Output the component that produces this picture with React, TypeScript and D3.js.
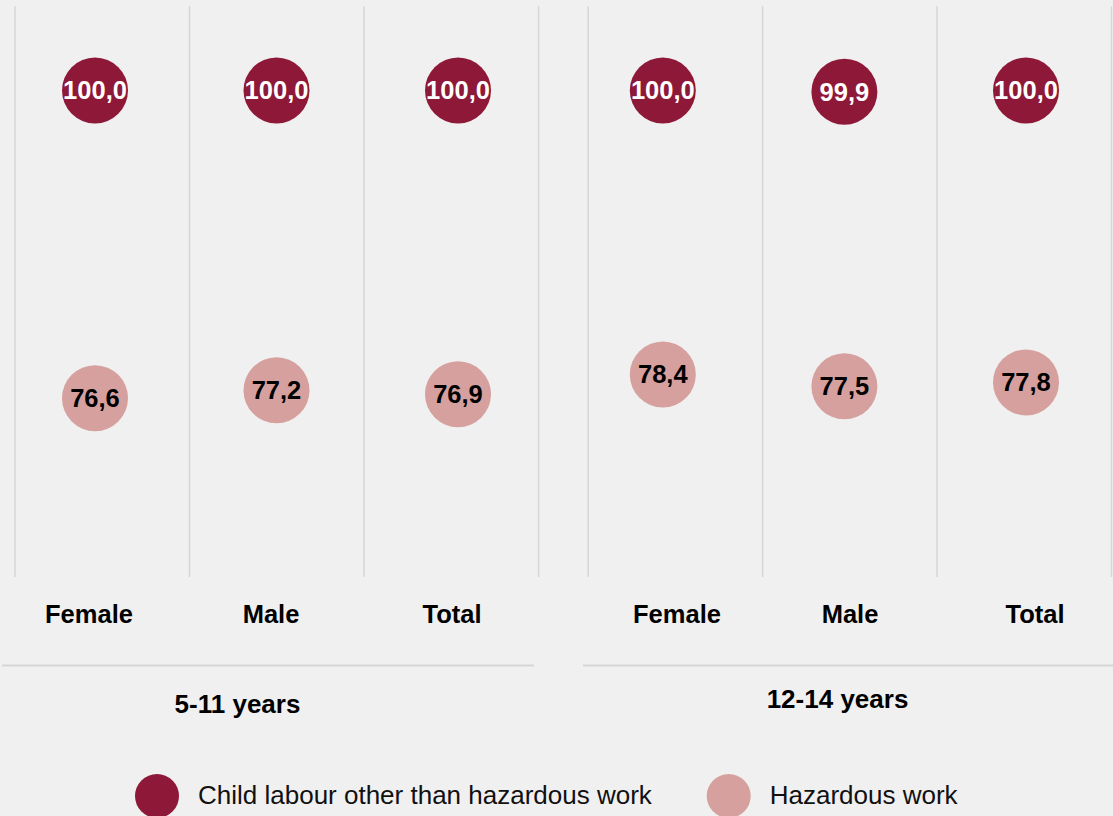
import React from "react";
import * as d3 from "d3";

const categories = ["Female", "Male", "Total"];
const groups = ["5-11 years", "12-14 years"];
const seriesNames = ["Child labour other than hazardous work", "Hazardous work"];
const childLabourOther = [
  [100.0, 100.0, 100.0],
  [100.0, 99.9, 100.0],
];
const hazardousWork = [
  [76.6, 77.2, 76.9],
  [78.4, 77.5, 77.8],
];

const W = 1113;
const H = 816;
const BG = "#f0f0f0";
const DARK = "#8e1838";
const PINK = "#d5a09e";
const GRID = "#d6d6d6";
const FONT = "'Liberation Sans', Arial, Helvetica, sans-serif";
const FS = 25.5;
const R = 33;

const panels = [
  { grid: [15, 538.6], dots: [95, 458], labels: [89, 271, 452], rule: [2, 534], titleX: 237.5, titleY: 713 },
  { grid: [588.2, 1111.5], dots: [662.8, 1026], labels: [677, 850, 1035], rule: [583, 1113], titleX: 837.5, titleY: 708 },
];

const yScale = d3.scaleLinear().domain([63, 106.5]).range([577, 5]);
const fmt = (v: number) => v.toFixed(1).replace(".", ",");

export default function App() {
  const colors = [DARK, PINK];
  const series = [childLabourOther, hazardousWork];
  return (
    <svg
      width={W}
      height={H}
      style={{ position: "absolute", left: 0, top: 0, display: "block" }}
      fontFamily={FONT}
    >
      <rect x={0} y={0} width={W} height={H} fill={BG} />
      {panels.map((p, gi) => {
        const band = d3.scaleBand<string>().domain(categories).range(p.grid as [number, number]).padding(0);
        const dotX = d3.scalePoint<string>().domain(categories).range(p.dots as [number, number]);
        const labX = d3.scaleOrdinal<string, number>().domain(categories).range(p.labels);
        const gridXs = [...categories.map((c) => band(c) as number), (band(categories[2]) as number) + band.bandwidth()];
        return (
          <g key={gi}>
            {gridXs.map((x, i) => (
              <line key={i} x1={x} x2={x} y1={yScale(106.4)} y2={yScale(63)} stroke={GRID} strokeWidth={1.5} />
            ))}
            <line x1={p.rule[0]} x2={p.rule[1]} y1={665.5} y2={665.5} stroke={GRID} strokeWidth={2} />
            {categories.map((c) => (
              <text key={c} x={labX(c)} y={623} textAnchor="middle" fontSize={FS} fontWeight="bold" fill="#000">
                {c}
              </text>
            ))}
            <text x={p.titleX} y={p.titleY} textAnchor="middle" fontSize={26} fontWeight="bold" fill="#000">
              {groups[gi]}
            </text>
            {series.map((s, si) =>
              categories.map((c, ci) => {
                const v = s[gi][ci];
                const cx = dotX(c) as number;
                const cy = yScale(v);
                return (
                  <g key={`${si}-${c}`}>
                    <circle cx={cx} cy={cy} r={R} fill={colors[si]} />
                    <text
                      x={cx}
                      y={cy}
                      dy="0.35em"
                      textAnchor="middle"
                      fontSize={FS}
                      fontWeight="bold"
                      fill={si === 0 ? "#fff" : "#000"}
                    >
                      {fmt(v)}
                    </text>
                  </g>
                );
              })
            )}
          </g>
        );
      })}
      {seriesNames.map((name, i) => {
        const lx = [157, 728.7][i];
        return (
          <g key={name}>
            <circle cx={lx} cy={796} r={22} fill={colors[i]} />
            <text x={lx + 41} y={804} fontSize={26} fill="#111">
              {name}
            </text>
          </g>
        );
      })}
    </svg>
  );
}
